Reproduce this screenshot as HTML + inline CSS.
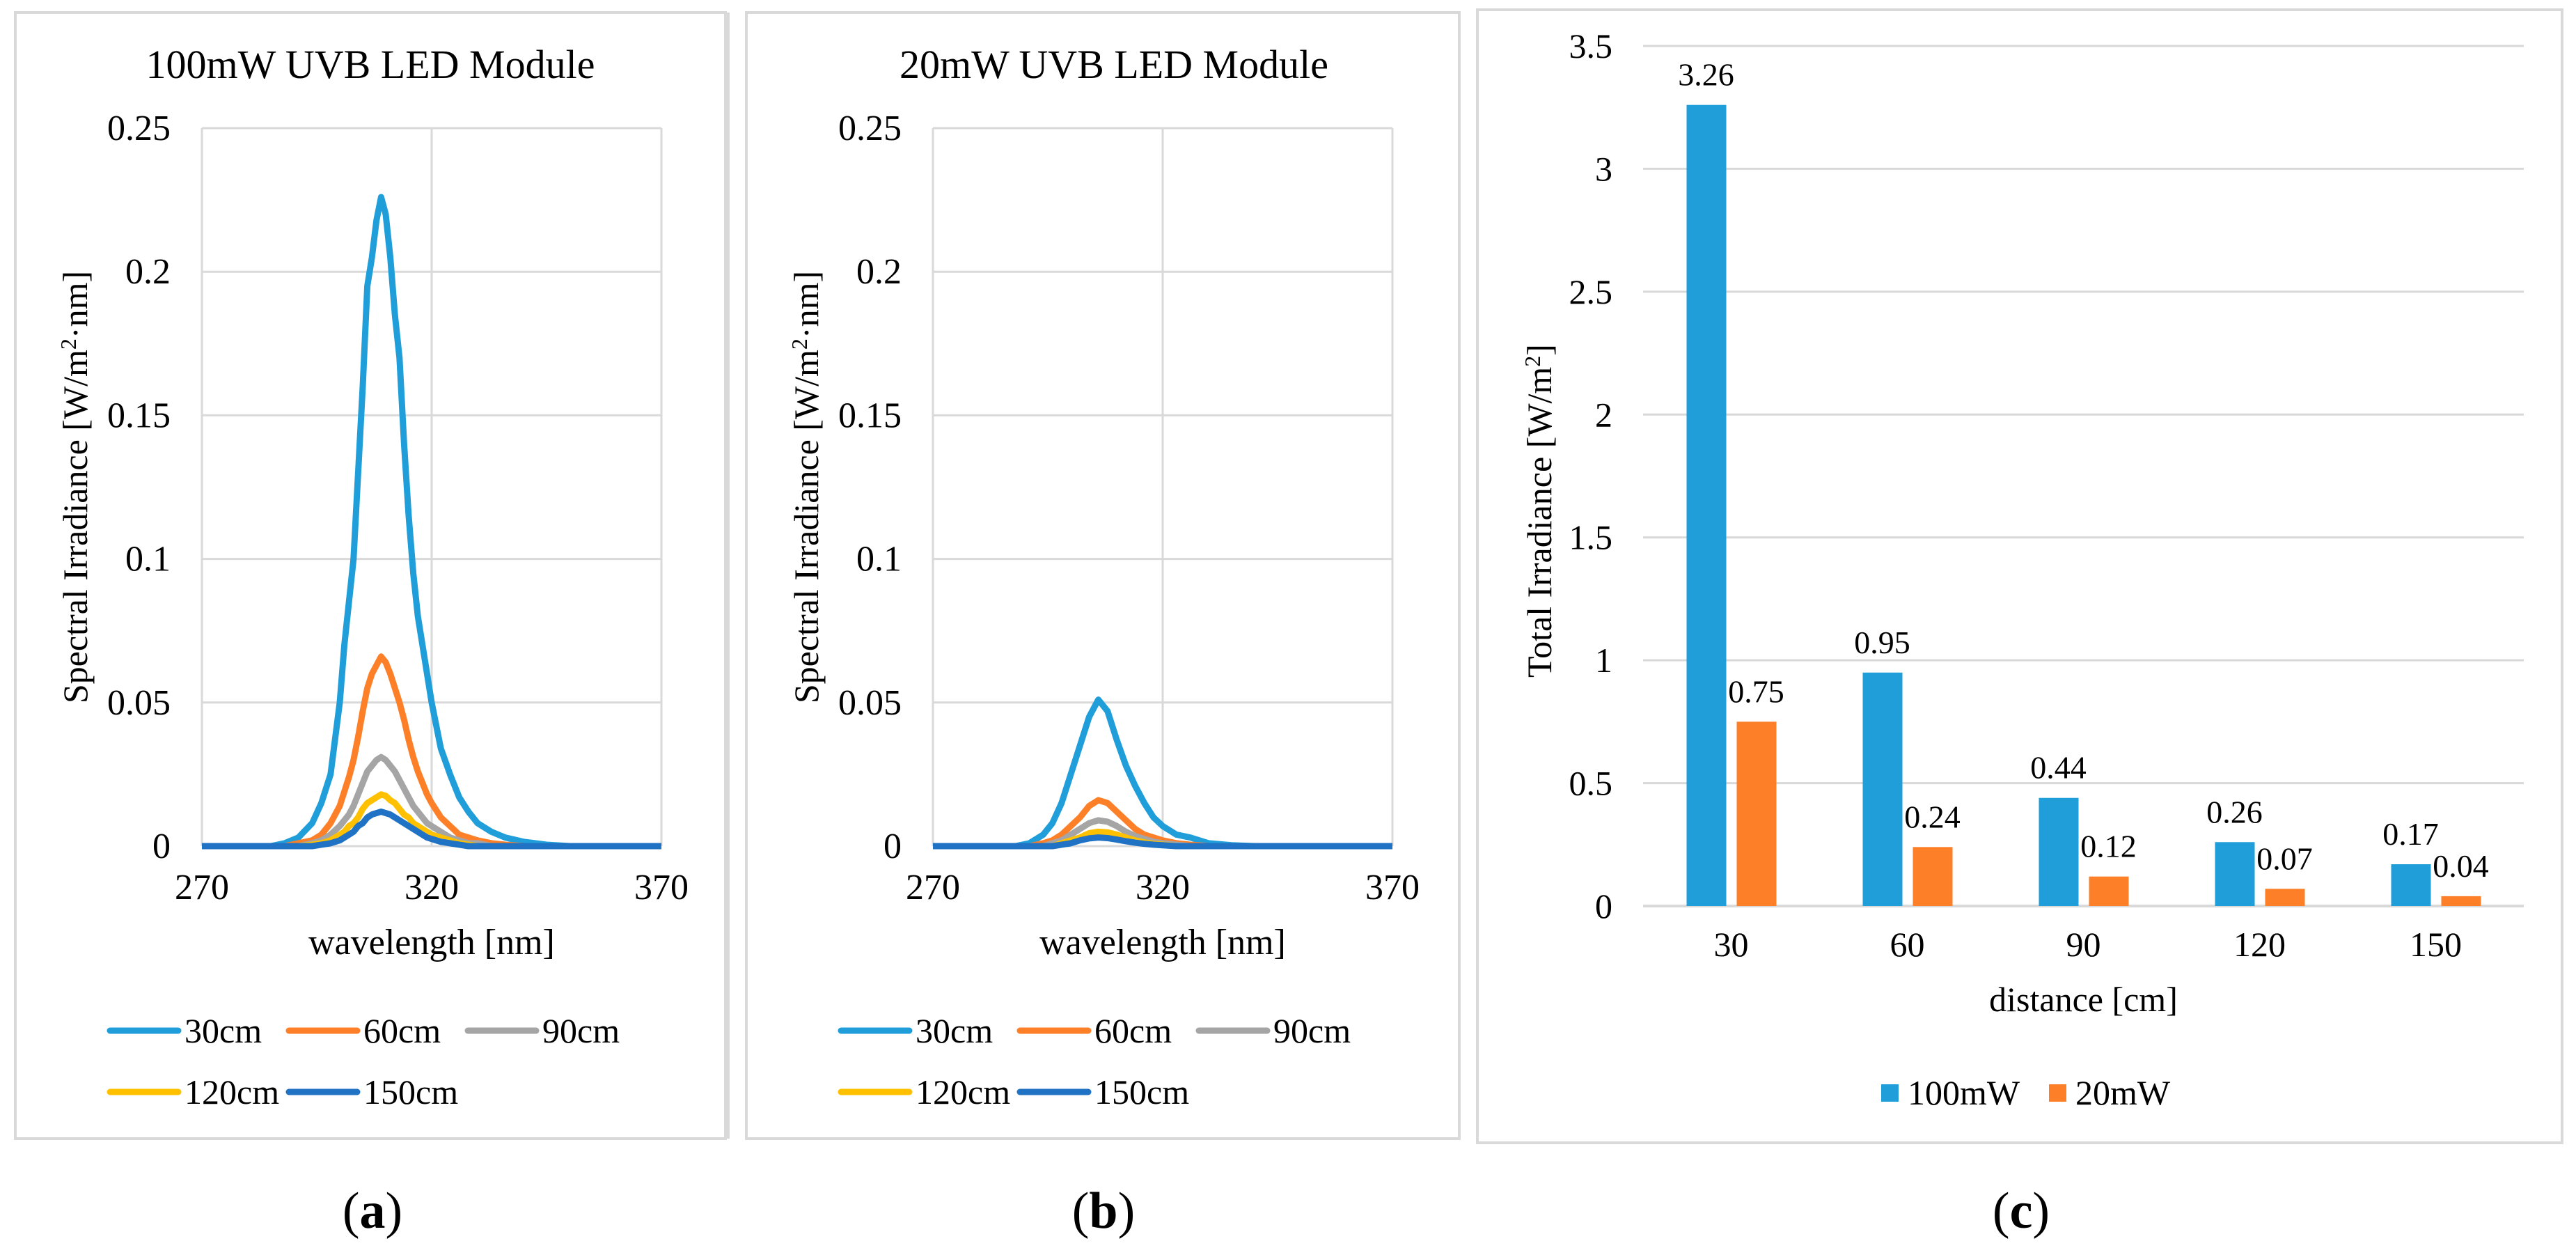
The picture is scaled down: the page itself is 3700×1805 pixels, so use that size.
<!DOCTYPE html>
<html><head><meta charset="utf-8"><style>
html,body{margin:0;padding:0;background:#fff}
svg{display:block;font-family:"Liberation Serif","DejaVu Serif","Times New Roman",serif}
text,tspan{font-family:"Liberation Serif","DejaVu Serif","Times New Roman",serif;fill:#000}
</style></head><body>
<svg id="fig" width="3700" height="1805" viewBox="0 0 3700 1805" xmlns="http://www.w3.org/2000/svg" font-family="Liberation Serif, DejaVu Serif, serif"></svg>
<script>
// ---- Panel (a)/(b) spectral data ----
const wlA = [270,285,288,291,294,296,298,300,301,302,303,304,305,306,307,308,309,310,311,312,313,314,315,316,317,318,319,320,322,324,326,328,330,333,336,340,345,350,370];
const a30 = [0,0,0.001,0.003,0.008,0.015,0.025,0.05,0.07,0.085,0.1,0.13,0.16,0.195,0.205,0.218,0.226,0.22,0.205,0.185,0.17,0.14,0.115,0.095,0.08,0.07,0.06,0.05,0.034,0.025,0.017,0.012,0.008,0.005,0.003,0.0015,0.0005,0,0];
const a60 = [0,0,0,0.001,0.002,0.004,0.008,0.014,0.019,0.024,0.03,0.038,0.047,0.055,0.06,0.063,0.066,0.064,0.06,0.055,0.05,0.044,0.037,0.031,0.026,0.022,0.018,0.015,0.01,0.007,0.004,0.003,0.002,0.001,0.0005,0,0,0,0];
const a90 = [0,0,0,0,0.001,0.002,0.004,0.007,0.009,0.011,0.014,0.018,0.022,0.026,0.028,0.03,0.031,0.03,0.028,0.026,0.023,0.02,0.017,0.014,0.012,0.01,0.008,0.007,0.005,0.003,0.002,0.001,0.001,0,0,0,0,0,0];
const a120 = [0,0,0,0,0.0005,0.001,0.002,0.004,0.005,0.007,0.008,0.01,0.013,0.015,0.016,0.017,0.018,0.0175,0.016,0.015,0.013,0.011,0.01,0.008,0.007,0.006,0.005,0.004,0.003,0.002,0.001,0.0005,0,0,0,0,0,0,0];
const a150 = [0,0,0,0,0,0.0005,0.001,0.002,0.003,0.004,0.005,0.007,0.008,0.01,0.011,0.0115,0.012,0.0115,0.011,0.01,0.009,0.008,0.007,0.006,0.005,0.004,0.003,0.0025,0.0015,0.001,0.0005,0,0,0,0,0,0,0,0];
const wlB = [270,288,291,294,296,298,300,302,304,306,308,310,312,314,316,318,320,323,326,330,335,340,370];
const b30 = [0,0,0.001,0.004,0.008,0.015,0.025,0.035,0.045,0.051,0.047,0.037,0.028,0.021,0.015,0.01,0.007,0.004,0.003,0.001,0.0003,0,0];
const b60 = [0,0,0,0.001,0.002,0.004,0.007,0.01,0.014,0.016,0.015,0.012,0.009,0.006,0.004,0.003,0.002,0.001,0.0005,0,0,0,0];
const b90 = [0,0,0,0,0.001,0.002,0.004,0.006,0.008,0.009,0.0085,0.007,0.005,0.0035,0.0025,0.0015,0.001,0.0005,0,0,0,0,0];
const b120 = [0,0,0,0,0,0.001,0.002,0.003,0.0045,0.005,0.0048,0.004,0.003,0.002,0.0013,0.0008,0.0005,0,0,0,0,0,0];
const b150 = [0,0,0,0,0,0.0005,0.001,0.002,0.0027,0.003,0.0028,0.0023,0.0017,0.0012,0.0008,0.0005,0.0003,0,0,0,0,0,0];
const seriesNames = ["30cm","60cm","90cm","120cm","150cm"];
const yTicksSpec = [0,0.05,0.1,0.15,0.2,0.25];
const yTickLabelsSpec = ["0","0.05","0.1","0.15","0.2","0.25"];
const xTicksSpec = [270,320,370];
// ---- Panel (c) bar data ----
const distances = ["30","60","90","120","150"];
const total100 = [3.26,0.95,0.44,0.26,0.17];
const total20 = [0.75,0.24,0.12,0.07,0.04];
const yTicksC = [0,0.5,1,1.5,2,2.5,3,3.5];
const yTickLabelsC = ["0","0.5","1","1.5","2","2.5","3","3.5"];

const NS="http://www.w3.org/2000/svg";
const FONT="Liberation Serif, DejaVu Serif, Times New Roman, serif";
const svg=document.getElementById('fig');
function mk(tag,attrs,parent,txt){const e=document.createElementNS(NS,tag);if(tag==='text')e.setAttribute('font-family',FONT);for(const k in attrs)e.setAttribute(k,attrs[k]);if(txt!==undefined)e.textContent=txt;(parent||svg).appendChild(e);return e;}
const colors=["#1f9ed9","#fd7f28","#a5a5a5","#ffc000","#1f72c4"];
const GRID="#d9d9d9";

function spectral(off,title,wl,series,name){
  const g=mk('g',{});
  
  
  const L=290+off,R=950+off,T=184,B=1215;
  const xs=v=>L+(v-270)/100*(R-L);
  const ys=v=>B-v/0.25*(B-T);
  const border=mk('rect',{x:22+off,y:18,width:1020+(off?4:0),height:1617,fill:'none',stroke:GRID,'stroke-width':4},g);
  
  
  const t=mk('text',{x:532+off+(off?18:0),y:112,'font-size':58,'text-anchor':'middle'},g,title);
  
  
  yTicksSpec.forEach((v,i)=>{
    const gl=mk('line',{x1:L,x2:R,y1:ys(v),y2:ys(v),stroke:GRID,'stroke-width':3},g);
    
    
    const tl=mk('text',{x:L-45,y:ys(v)+17,'font-size':52,'text-anchor':'end'},g,yTickLabelsSpec[i]);
    
    
  });
  xTicksSpec.forEach(v=>{
    const gl=mk('line',{x1:xs(v),x2:xs(v),y1:T,y2:B,stroke:GRID,'stroke-width':3},g);
    
    
    const tl=mk('text',{x:xs(v),y:1291,'font-size':52,'text-anchor':'middle'},g,String(v));
    
    
  });
  const xt=mk('text',{x:(L+R)/2,y:1370,'font-size':52,'text-anchor':'middle'},g,'wavelength [nm]');
  
  
  const yt=mk('text',{x:0,y:0,'font-size':50,'text-anchor':'middle',transform:`translate(${125+off},${(T+B)/2}) rotate(-90)`},g);
  
  
  yt.appendChild(document.createTextNode('Spectral Irradiance [W/m'));
  mk('tspan',{dy:-16,'font-size':32},yt,'2');
  mk('tspan',{dy:16},yt,'·nm]');
  series.forEach((s,i)=>{
    const p=mk('polyline',{points:s.map((v,j)=>xs(wl[j])+','+ys(v)).join(' '),fill:'none',stroke:colors[i],'stroke-width':9,'stroke-linejoin':'round'},g);
    
    
  });
  const legPos=[[158,1480],[415,1480],[672,1480],[158,1568],[415,1568]];
  seriesNames.forEach((n,i)=>{
    const [lx,ly]=legPos[i];
    const le=mk('g',{},g);
    
    
    mk('line',{x1:lx+off,x2:lx+off+98,y1:ly,y2:ly,stroke:colors[i],'stroke-width':9,'stroke-linecap':'round'},le);
    mk('text',{x:lx+off+107,y:ly+17,'font-size':50},le,n);
  });
}
spectral(0,'100mW UVB LED Module',wlA,[a30,a60,a90,a120,a150],'chart-a-100mw');
spectral(1050,'20mW UVB LED Module',wlB,[b30,b60,b90,b120,b150],'chart-b-20mw');
const sep1=mk('rect',{x:1042,y:18,width:6,height:1617,fill:GRID});



// ---- panel c ----
(function(){
  const g=mk('g',{});
  
  
  const L=2360,R=3625,T=66,B=1301;
  const ys=v=>B-v/3.5*(B-T);
  const step=(R-L)/distances.length;
  const cx=i=>L+step*(i+0.5);
  const border=mk('rect',{x:2122,y:14,width:1558,height:1627,fill:'none',stroke:GRID,'stroke-width':4},g);
  
  
  yTicksC.forEach((v,i)=>{
    const gl=mk('line',{x1:L,x2:R,y1:ys(v),y2:ys(v),stroke:GRID,'stroke-width':v===0?4:3},g);
    
    
    const tl=mk('text',{x:2316,y:ys(v)+17,'font-size':50,'text-anchor':'end'},g,yTickLabelsC[i]);
    
    
  });
  distances.forEach((d,i)=>{
    const tl=mk('text',{x:cx(i),y:1373,'font-size':50,'text-anchor':'middle'},g,d);
    
    
    [[total100,-36,colors[0]],[total20,36,colors[1]]].forEach(([arr,dx,c],k)=>{
      const v=arr[i];
      const r=mk('rect',{x:cx(i)+dx-28,y:ys(v),width:57,height:B-ys(v),fill:c},g);
      
      
      const lb=mk('text',{x:cx(i)+dx,y:ys(v)-28,'font-size':46,'text-anchor':'middle'},g,v.toFixed(2));
      
      
    });
  });
  const xt=mk('text',{x:(L+R)/2,y:1452,'font-size':50,'text-anchor':'middle'},g,'distance [cm]');
  
  
  const yt=mk('text',{x:0,y:0,'font-size':50,'text-anchor':'middle',transform:`translate(2228,${(T+B)/2+50}) rotate(-90)`},g);
  
  
  yt.appendChild(document.createTextNode('Total Irradiance [W/m'));
  mk('tspan',{dy:-16,'font-size':32},yt,'2');
  mk('tspan',{dy:16},yt,']');
  [['100mW',2702,colors[0]],['20mW',2943,colors[1]]].forEach(([n,x,c])=>{
    const le=mk('g',{},g);
    
    
    mk('rect',{x:x,y:1557,width:25,height:25,fill:c},le);
    mk('text',{x:x+38,y:1586,'font-size':50},le,n);
  });
})();
[['(a)',535],['(b)',1585],['(c)',2903]].forEach(([s,x])=>{
  const t=mk('text',{x:x,y:1763,'font-size':74,'text-anchor':'middle'});
  
  
  t.appendChild(document.createTextNode('('));
  mk('tspan',{'font-weight':'bold'},t,s[1]);
  t.appendChild(document.createTextNode(')'));
});
</script>
</body></html>
